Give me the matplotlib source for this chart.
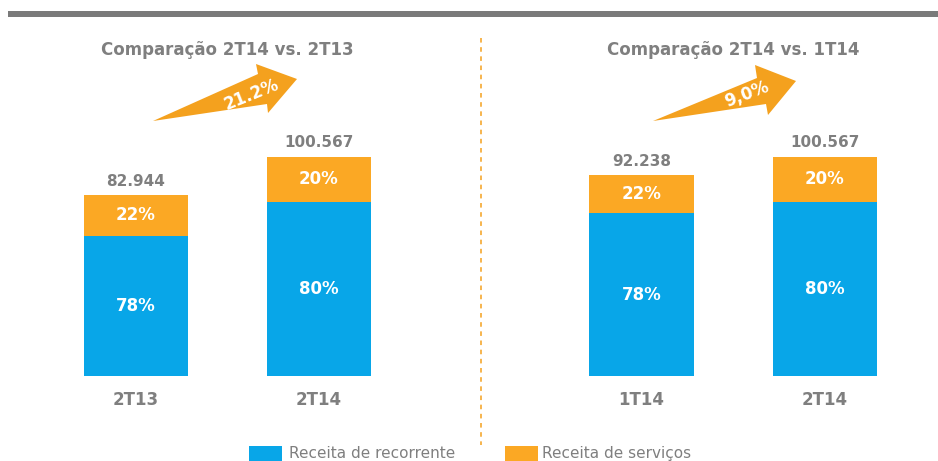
import matplotlib.pyplot as plt
from matplotlib.patches import Polygon, Rectangle

# dados (milhares)
left_cats = ['2T13', '2T14']
left_totals = [82.944, 100.567]
left_rec_vals = [64.4, 80.0]      # parte azul como desenhada
left_rec = [78, 80]
left_serv = [22, 20]

right_cats = ['1T14', '2T14']
right_totals = [92.238, 100.567]
right_rec_vals = [74.6, 80.0]
right_rec = [78, 80]
right_serv = [22, 20]

titles = ['Comparação 2T14 vs. 2T13', 'Comparação 2T14 vs. 1T14']
growth = ['21.2%', '9,0%']
legend_labels = ['Receita de recorrente', 'Receita de serviços']

BLUE = '#08A6E8'
ORANGE = '#FBA824'
ARROW = '#F4A11E'
GRAY = '#7F7F7F'

W, H = 938, 461
fig = plt.figure(figsize=(W / 100, H / 100), dpi=100)
plt.rcParams['font.family'] = ['DejaVu Sans']


def px_axes(x0, x1, y_top, y_bot):
    return fig.add_axes([x0 / W, 1 - y_bot / H, (x1 - x0) / W, (y_bot - y_top) / H])


def draw_panel(ax, cats, totals, rec_vals, rec, serv):
    xs = range(len(cats))
    serv_vals = [t - r for t, r in zip(totals, rec_vals)]
    ax.bar(xs, rec_vals, width=0.57, color=BLUE)
    ax.bar(xs, serv_vals, width=0.57, bottom=rec_vals, color=ORANGE)
    for x, t, rv, sv, r, s in zip(xs, totals, rec_vals, serv_vals, rec, serv):
        ax.text(x, rv / 2, f'{r}%', ha='center', va='center', color='white',
                fontsize=12, fontweight='bold')
        ax.text(x, rv + sv / 2, f'{s}%', ha='center', va='center', color='white',
                fontsize=12, fontweight='bold')
        ax.annotate(f'{t:.3f}', (x, t), xytext=(0, 10), textcoords='offset points',
                    ha='center', va='center', color=GRAY, fontsize=11, fontweight='bold')
    ax.set_xlim(-0.5, 1.5)
    ax.set_ylim(0, 356 / 2.18)
    ax.set_xticks(list(xs))
    ax.set_xticklabels(cats, color=GRAY, fontsize=12, fontweight='bold')
    ax.tick_params(axis='x', length=0, pad=11)
    ax.set_yticks([])
    for sp in ax.spines.values():
        sp.set_visible(False)
    ax.patch.set_alpha(0)


ax_l = px_axes(136 - 91.4, 318.8 + 91.4, 20, 376)
draw_panel(ax_l, left_cats, left_totals, left_rec_vals, left_rec, left_serv)
ax_r = px_axes(641.5 - 91.7, 825 + 91.7, 20, 376)
draw_panel(ax_r, right_cats, right_totals, right_rec_vals, right_rec, right_serv)

# camada de decoracao em pixels
deco = fig.add_axes([0, 0, 1, 1], zorder=-1)
deco.set_xlim(0, W)
deco.set_ylim(H, 0)
deco.axis('off')
deco.add_patch(Rectangle((8, 11), W - 8, 6, color='#7A7A7A', lw=0))
deco.plot([481, 481], [38, 445], color=ARROW, lw=1.1, ls=(0, (3, 3)))

top = fig.add_axes([0, 0, 1, 1], zorder=5)
top.set_xlim(0, W)
top.set_ylim(H, 0)
top.axis('off')
top.patch.set_alpha(0)

arrows = [
    [(153, 121), (258, 74), (256, 64), (297, 79), (268, 113), (267, 104)],
    [(653, 121), (757, 78), (755, 65), (796, 81), (768, 115), (766, 104)],
]
for pts in arrows:
    top.add_patch(Polygon(pts, closed=True, color=ARROW, lw=0))
top.text(252, 95, growth[0], rotation=22, ha='center', va='center', color='white',
         fontsize=12, fontweight='bold', rotation_mode='anchor')
top.text(747, 94, growth[1], rotation=21, ha='center', va='center', color='white',
         fontsize=12, fontweight='bold', rotation_mode='anchor')

top.text(227, 50, titles[0], ha='center', va='center', color=GRAY,
         fontsize=12, fontweight='bold')
top.text(733, 50, titles[1], ha='center', va='center', color=GRAY,
         fontsize=12, fontweight='bold')

# legenda
top.add_patch(Rectangle((249, 446), 33, 16, color=BLUE, lw=0))
top.text(289, 453, legend_labels[0], ha='left', va='center', color=GRAY, fontsize=11)
top.add_patch(Rectangle((505, 446), 33, 16, color=ORANGE, lw=0))
top.text(542, 453, legend_labels[1], ha='left', va='center', color=GRAY, fontsize=11)

fig.savefig('out.png', dpi=100)
